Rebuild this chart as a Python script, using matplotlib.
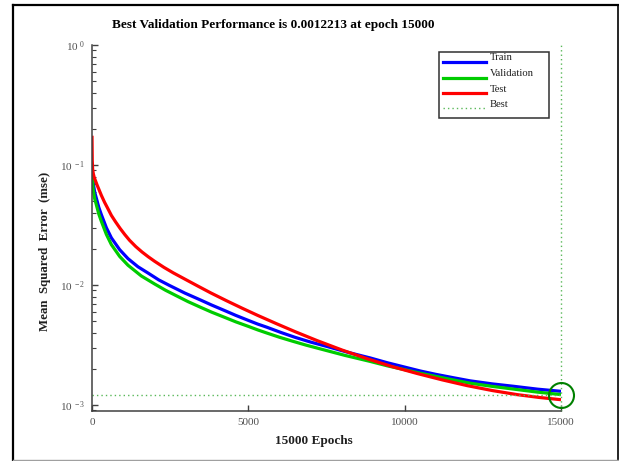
import matplotlib
matplotlib.use("Agg")
import matplotlib.pyplot as plt
from matplotlib.ticker import LogLocator, FixedLocator, NullFormatter
from matplotlib.lines import Line2D
from matplotlib.patches import Rectangle

plt.rcParams['font.family'] = ['Liberation Serif', 'DejaVu Serif']
plt.rcParams['mathtext.fontset'] = 'custom'
plt.rcParams['mathtext.rm'] = 'Liberation Serif'
plt.rcParams['mathtext.it'] = 'Liberation Serif:italic'
plt.rcParams['mathtext.bf'] = 'Liberation Serif:bold'

# ---- data ----
train_epochs = [0, 10, 20, 32, 55, 85, 138, 219, 300, 460,
                620, 885, 1150, 1470, 1790, 2137, 2485, 2967, 3450, 3825,
                4200, 4600, 5000, 5295, 5590, 6045, 6500, 7000, 7505, 8200,
                8890, 9445, 10000, 10500, 11000, 11545, 12090, 12795, 13500, 14250,
                15000]
train_mse = [0.0951, 0.0841, 0.0785, 0.0730, 0.0664, 0.0596, 0.0530, 0.0442, 0.0385, 0.0300,
             0.0247, 0.0197, 0.0166, 0.01419, 0.01259, 0.01102, 0.00989, 0.00857, 0.00754, 0.00681,
             0.00619, 0.00558, 0.00507, 0.00473, 0.00445, 0.00402, 0.00366, 0.00334, 0.00308, 0.00274,
             0.00247, 0.00225, 0.00207, 0.00192, 0.00180, 0.00169, 0.00159, 0.00150, 0.00143, 0.001355,
             0.0013]

val_epochs = [0, 8, 15, 32, 55, 85, 138, 219, 300, 460,
              620, 885, 1150, 1578, 2005, 2352, 2700, 3075, 3450, 3825,
              4200, 4600, 5000, 5295, 5590, 5995, 6400, 6845, 7290, 8090,
              8890, 9445, 10000, 10500, 11000, 11545, 12090, 12795, 13500, 14250,
              15000]
val_mse = [0.1, 0.0895, 0.0800, 0.0643, 0.0585, 0.0525, 0.0467, 0.0389, 0.0339, 0.0264,
           0.0217, 0.0173, 0.01462, 0.01189, 0.01019, 0.00904, 0.00813, 0.00726, 0.00656, 0.00594,
           0.00543, 0.00493, 0.00452, 0.00423, 0.00398, 0.00367, 0.00341, 0.003155, 0.00294, 0.00259,
           0.00231, 0.00212, 0.00197, 0.00184, 0.00173, 0.00162, 0.00152, 0.00143, 0.001355, 0.00128,
           0.0012213]

test_epochs = [0, 8, 20, 40, 70, 110, 160, 220, 300, 400,
               500, 620, 750, 900, 1050, 1200, 1400, 1600, 1800, 2000,
               2300, 2600, 3000, 3400, 3800, 4300, 4800, 5300, 5900, 6500,
               7200, 8000, 8800, 9600, 10400, 11200, 12000, 12800, 13600, 14300,
               15000]
test_mse = [0.1754, 0.1096, 0.0923, 0.0851, 0.0789, 0.0741, 0.0684, 0.0627, 0.0558, 0.0490,
            0.0437, 0.0380, 0.0337, 0.0296, 0.0263, 0.0236, 0.0209, 0.01884, 0.01718, 0.01578,
            0.01403, 0.01262, 0.01109, 0.00975, 0.00859, 0.00740, 0.00641, 0.00558, 0.00476, 0.00408,
            0.00344, 0.00287, 0.00243, 0.00209, 0.00183, 0.00162, 0.00145, 0.00132, 0.00122, 0.001156,
            0.001107]

best_epoch = 15000
best_perf = 0.0012213

x_ticks = [0, 5000, 10000, 15000]
x_tick_labels = ['0', '5000', '10000', '15000']
y_ticks = [1e-3, 1e-2, 1e-1, 1e0]
y_tick_labels = [r'$10^{\ -3}$', r'$10^{\ -2}$', r'$10^{\ -1}$', r'$10^{\ 0}$']
legend_labels = ['Train', 'Validation', 'Test', 'Best']

title = 'Best Validation Performance is 0.0012213 at epoch 15000'
xlabel = '15000 Epochs'
ylabel = 'Mean  Squared  Error  (mse)'

# ---- figure ----
W, H = 619, 461
fig = plt.figure(figsize=(W / 100, H / 100), dpi=100)
ax = fig.add_axes([92 / W, 1 - 411 / H, (561 - 92) / W, (411 - 45) / H])

c_train = (0, 0, 1)
c_val = (0, 0.8, 0)
c_test = (1, 0, 0)
c_best = (0.35, 0.72, 0.35)

lw = 2.3
kw = dict(lw=lw, solid_capstyle='butt', solid_joinstyle='round')
ax.plot(train_epochs, train_mse, color=c_train, **kw)
ax.plot(val_epochs, val_mse, color=c_val, **kw)
ax.plot(test_epochs, test_mse, color=c_test, **kw)

ax.set_yscale('log')
ax.set_xlim(0, 15000)
ax.set_ylim(10 ** -3.05, 10 ** 0.0)

ax.plot([best_epoch, best_epoch], [10 ** -3.05, 10 ** 0.0], color=c_best, lw=1.0,
        ls=(0, (1, 2.2)), clip_on=False)
ax.plot([0, 15000], [best_perf, best_perf], color=c_best, lw=1.0, ls=(0, (1, 2.2)))
ax.plot([best_epoch], [best_perf], marker='o', ms=18, mfc='none', mec=(0, 0.5, 0),
        mew=1.5, clip_on=False)

for s in ['top', 'right']:
    ax.spines[s].set_visible(False)
for s in ['left', 'bottom']:
    ax.spines[s].set_color('#404040')
    ax.spines[s].set_linewidth(1.1)

ax.xaxis.set_major_locator(FixedLocator(x_ticks))
ax.set_xticklabels(x_tick_labels)
ax.yaxis.set_major_locator(FixedLocator(y_ticks))
ax.set_yticklabels(y_tick_labels)
ax.yaxis.set_minor_locator(LogLocator(base=10, subs=range(2, 10)))
ax.yaxis.set_minor_formatter(NullFormatter())
ax.tick_params(axis='both', which='major', direction='in', length=4.5, width=1.0,
               color='#404040', labelsize=8, labelcolor='#505050', pad=5)
ax.tick_params(axis='y', which='minor', direction='in', length=3, width=0.8,
               color='#404040')

# legend (drawn as a box with sample lines)
ax.add_patch(Rectangle((0.740, 0.801), 0.234, 0.180, transform=ax.transAxes,
                       fill=True, facecolor='white', edgecolor='#303030', lw=1.1,
                       zorder=5))
leg_y_line = [0.9536, 0.9107, 0.8697, 0.8279]
leg_y_text = [0.9653, 0.9224, 0.8779, 0.8369]
leg_styles = [dict(color=c_train, lw=2.3), dict(color=c_val, lw=2.3),
              dict(color=c_test, lw=2.3), dict(color=c_best, lw=1.0, ls=(0, (1, 2.2)))]
for lbl, yl, yt, st in zip(legend_labels, leg_y_line, leg_y_text, leg_styles):
    ax.add_line(Line2D([0.7484, 0.8401], [yl, yl], transform=ax.transAxes, zorder=6, **st))
    ax.text(0.8486, yt, lbl, transform=ax.transAxes, fontsize=7.7, va='center',
            ha='left', color='#202020', zorder=6)

fig.text(273 / W, 1 - 25 / H, title, ha='center', va='center', fontsize=9.5,
         fontweight='bold')
fig.text(314 / W, 1 - 441 / H, xlabel, ha='center', va='center', fontsize=9.5,
         fontweight='bold', color='#202020')
fig.text(45.4 / W, 1 - 251.5 / H, ylabel, ha='center', va='center', fontsize=9.3,
         fontweight='bold', rotation=90, color='#202020')

# outer frame
fig.add_artist(Line2D([12.5 / W, 12.5 / W], [0, 1 - 5.3 / H], transform=fig.transFigure,
                      color='black', lw=1.6))
fig.add_artist(Line2D([12.5 / W, 618.3 / W], [1 - 5.3 / H, 1 - 5.3 / H],
                      transform=fig.transFigure, color='black', lw=1.6))
fig.add_artist(Line2D([618.3 / W, 618.3 / W], [1 - 5.3 / H, 0], transform=fig.transFigure,
                      color='black', lw=1.2))
fig.add_artist(Line2D([12.5 / W, 618.3 / W], [1 - 460 / H, 1 - 460 / H],
                      transform=fig.transFigure, color='#a0a0a0', lw=1.0))

fig.savefig('out.png', dpi=100)
